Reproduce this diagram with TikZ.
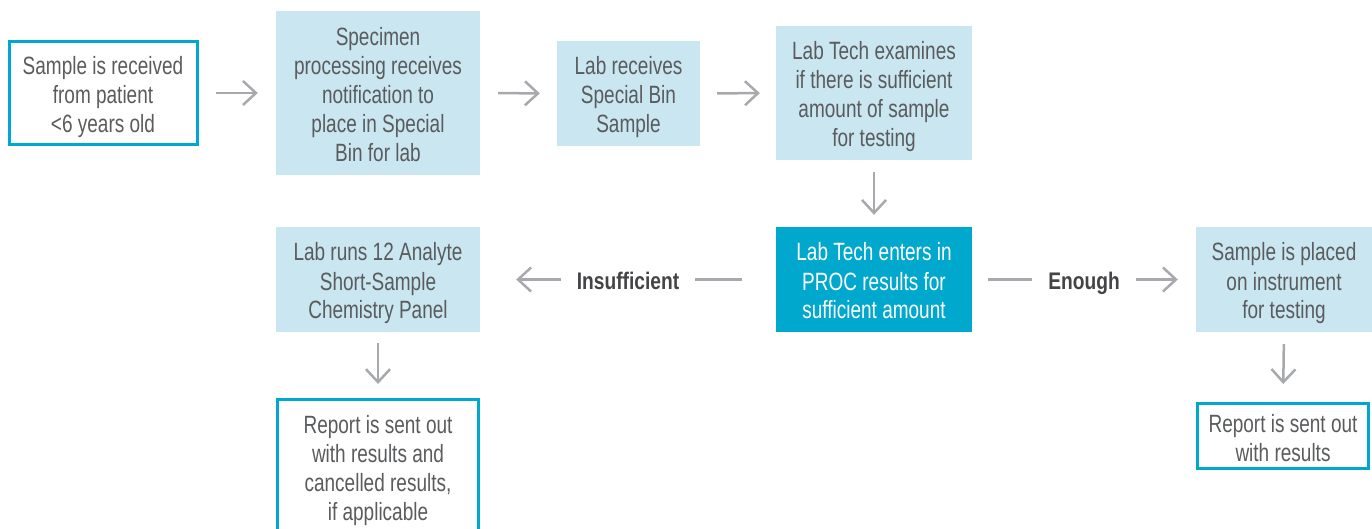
\documentclass[tikz,border=0pt]{standalone}
\usepackage{fontspec}
\setmainfont{Liberation Sans}[FakeStretch=0.76,BoldFeatures={FakeStretch=0.8}]
\usetikzlibrary{arrows.meta}
\definecolor{lightbox}{HTML}{CAE6F1}
\definecolor{cyanc}{HTML}{00A8CE}
\definecolor{txt}{HTML}{5A5B5D}
\definecolor{arrc}{HTML}{A7A9AC}
\definecolor{lbl}{HTML}{444446}
\newcommand\mlines[1]{\raisebox{-4.7pt}[\height][\depth]{\begin{tabular}{@{}c@{}}#1\end{tabular}}}
\tikzset{
  base/.style={inner sep=0pt, text=txt, font=\fontsize{25}{29}\selectfont},
  fillbox/.style={base, fill=lightbox},
  outbox/.style={base, draw=cyanc, line width=3pt},
  darkbox/.style={base, fill=cyanc, text=white},
  arr/.style={draw=arrc, line width=2.5pt, -{Straight Barb[length=13pt,width=24pt,line width=2.5pt]}},
  lab/.style={fill=white, inner xsep=16pt, inner ysep=0pt, text height=25pt, text depth=6pt, text=lbl, font=\fontsize{24}{29}\selectfont\bfseries}
}
\begin{document}
\begin{tikzpicture}[x=1pt,y=-1pt]
\useasboundingbox (0,0) rectangle (1372,529);
\node[outbox, minimum width=188pt, minimum height=103pt] (b1) at (103,93) {\mlines{Sample is received\\from patient\\<6 years old}};
\node[fillbox, minimum width=204pt, minimum height=164pt] (b2) at (378,93) {\mlines{Specimen\\processing receives\\notification to\\place in Special\\Bin for lab}};
\node[fillbox, minimum width=143pt, minimum height=105pt] (b3) at (628.5,93.5) {\mlines{Lab receives\\Special Bin\\Sample}};
\node[fillbox, minimum width=196pt, minimum height=134pt] (b4) at (874,93) {\mlines{Lab Tech examines\\if there is sufficient\\amount of sample\\for testing}};
\node[darkbox, minimum width=196pt, minimum height=105pt] (b5) at (874,279.5) {\mlines{Lab Tech enters in\\PROC results for\\sufficient amount}};
\node[fillbox, minimum width=176pt, minimum height=105pt] (b6) at (1284,279.5) {\mlines{Sample is placed\\on instrument\\for testing}};
\node[outbox, minimum width=171pt, minimum height=65pt] (b7) at (1283,436) {\mlines{Report is sent out\\with results}};
\node[fillbox, minimum width=204pt, minimum height=105pt] (b8) at (378,279.5) {\mlines{Lab runs 12 Analyte\\Short-Sample\\Chemistry Panel}};
\node[outbox, minimum width=201pt, minimum height=133.5pt] (b9) at (378,466.25) {\mlines{Report is sent out\\with results and\\cancelled results,\\if applicable}};

\draw[arr, shorten <=17.5pt, shorten >=18pt] (b1.east) -- (b2.west);
\draw[arr, shorten <=18pt, shorten >=17pt] (b2.east) -- (b3.west);
\draw[arr, shorten <=17pt, shorten >=16pt] (b3.east) -- (b4.west);
\draw[arr, shorten <=12pt, shorten >=12pt] (b4.south) -- (b5.north);
\draw[arr, shorten <=34pt, shorten >=36pt] (b5.west) -- node[lab] {Insufficient} (b8.east);
\draw[arr, shorten <=16pt, shorten >=18pt] (b5.east) -- node[lab] {Enough} (b6.west);
\draw[arr, shorten <=12pt, shorten >=18pt] (b6.south) -- (b7.north);
\draw[arr, shorten <=11pt, shorten >=14pt] (b8.south) -- (b9.north);
\end{tikzpicture}
\end{document}
